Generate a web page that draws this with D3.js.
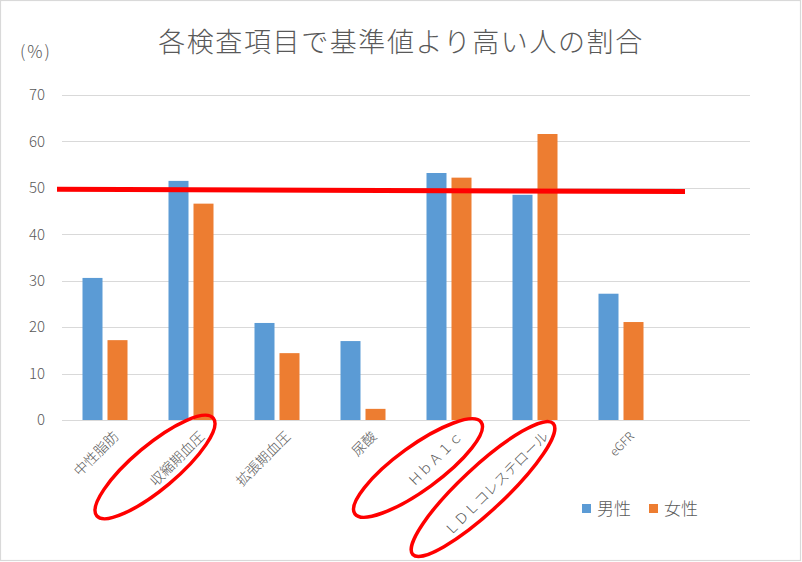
<!DOCTYPE html>
<html><head><meta charset="utf-8">
<script src="https://cdn.jsdelivr.net/npm/d3@7"></script>
<style>
html,body{margin:0;padding:0;background:#fff;}
svg{display:block;font-family:"Noto Sans CJK JP","Noto Sans",sans-serif;}
</style></head>
<body>
<svg id="c" width="802" height="562"></svg>
<script>
const categories = ["中性脂肪","収縮期血圧","拡張期血圧","尿酸","ＨｂＡ１ｃ","ＬＤＬコレステロール","eGFR",""];
const male   = [30.6, 51.5, 20.9, 17.0, 53.2, 48.5, 27.2];
const female = [17.2, 46.6, 14.4, 2.4, 52.2, 61.6, 21.1];
const seriesNames = ["男性","女性"];
const seriesColors = ["#5b9bd5","#ed7d31"];
const yTicks = [0,10,20,30,40,50,60,70];
const title = "各検査項目で基準値より高い人の割合";
const unitLabel = "(%)";
const thresholdValue = [49.7, 49.2]; // hand-drawn red line at ~50 (left, right)
const circledCategories = ["収縮期血圧","ＨｂＡ１ｃ","ＬＤＬコレステロール"];

const svg = d3.select("#c");
const W = 802, H = 562;
const plot = {left: 62, right: 750, top: 95, bottom: 420};

svg.append("rect").attr("x",0.5).attr("y",0.5).attr("width",W-2).attr("height",H-2)
  .attr("fill","#fff").attr("stroke","#d9d9d9").attr("stroke-width",1.2);

const x = d3.scaleBand().domain(categories.map((d,i)=>i)).range([plot.left, plot.right]).paddingInner(0).paddingOuter(0);
const y = d3.scaleLinear().domain([0,70]).range([plot.bottom, plot.top]);

// gridlines
svg.append("g").selectAll("line").data(yTicks).join("line")
  .attr("x1",plot.left).attr("x2",plot.right)
  .attr("y1",d=>Math.round(y(d))+0.5).attr("y2",d=>Math.round(y(d))+0.5)
  .attr("stroke","#d9d9d9").attr("stroke-width",1);

// y tick labels
svg.append("g").selectAll("text").data(yTicks).join("text")
  .attr("x",45).attr("y",d=>y(d)).attr("dy","0.35em")
  .attr("text-anchor","end").attr("font-size",15).attr("fill","#595959")
  .attr("font-weight",300)
  .text(d=>d);

// unit label
svg.append("text").attr("x",36).attr("y",58).attr("text-anchor","middle")
  .attr("font-size",17).attr("font-weight",300).attr("letter-spacing","2").attr("fill","#595959").text(unitLabel);

// title
svg.append("text").attr("x",401).attr("y",52).attr("text-anchor","middle")
  .attr("font-size",27).attr("font-weight",300).attr("fill","#595959")
  .attr("letter-spacing","1.6").text(title);

// bars
const bw = 20, gap = 5;
const data = male.map((m,i)=>({i, vals:[m, female[i]]}));
const g = svg.append("g");
data.forEach(d=>{
  const cx = x(d.i) + x.bandwidth()/2;
  d.vals.forEach((v,s)=>{
    g.append("rect")
      .attr("x", s===0 ? cx - gap/2 - bw : cx + gap/2)
      .attr("y", y(v)).attr("width", bw).attr("height", y(0)-y(v))
      .attr("fill", seriesColors[s]);
  });
});

// category labels
svg.append("g").selectAll("text").data(categories.filter(c=>c!=="")).join("text")
  .attr("transform",(d,i)=>`translate(${x(i)+x.bandwidth()/2+11},${plot.bottom+14}) rotate(-45)`)
  .attr("text-anchor","end").attr("dy","0.35em")
  .attr("font-size",d=>/^[A-Za-z]+$/.test(d)?12:14).attr("font-weight",300).attr("fill","#595959")
  .text(d=>d);

// legend
const lg = svg.append("g").attr("transform","translate(582,504)");
seriesNames.forEach((n,i)=>{
  const ox = i*67;
  lg.append("rect").attr("x",ox).attr("y",0).attr("width",9).attr("height",9).attr("fill",seriesColors[i]);
  lg.append("text").attr("x",ox+15).attr("y",5).attr("dy","0.38em").attr("font-size",17).attr("font-weight",300).attr("fill","#595959").text(n);
});

// hand-drawn red threshold line
const xl = d3.scaleLinear().domain([0,1]).range([57,685]);
svg.append("line")
  .attr("x1",xl(0)).attr("x2",xl(1))
  .attr("y1",y(thresholdValue[0])).attr("y2",y(thresholdValue[1]))
  .attr("stroke","#ff0000").attr("stroke-width",5).attr("stroke-linecap","butt");

// red ellipses around circled labels
const ellipseSpec = {"収縮期血圧":{dx:-36,dy:47,rx:76,ry:22,a:-40},
                     "ＨｂＡ１ｃ":{dx:-31,dy:48,rx:78,ry:22,a:-36},
                     "ＬＤＬコレステロール":{dx:-52,dy:69,rx:96,ry:22,a:-43}};
circledCategories.forEach(c=>{
  const i = categories.indexOf(c);
  const s = ellipseSpec[c];
  const cx = x(i)+x.bandwidth()/2 + s.dx;
  svg.append("ellipse")
    .attr("transform",`translate(${cx},${plot.bottom+s.dy}) rotate(${s.a})`)
    .attr("rx",s.rx).attr("ry",s.ry)
    .attr("fill","none").attr("stroke","#ff0000").attr("stroke-width",3.5);
});
</script>
</body></html>
